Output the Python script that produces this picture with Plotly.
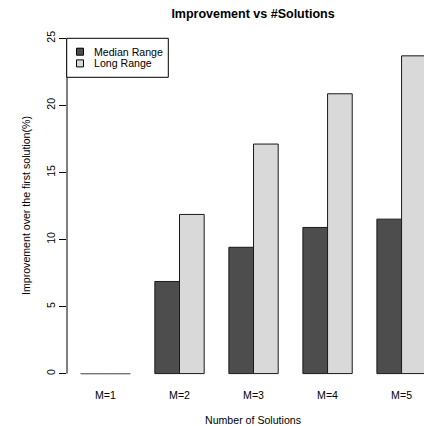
import plotly.graph_objects as go

categories = ["M=1", "M=2", "M=3", "M=4", "M=5"]
median_range = [0.0, 6.87, 9.42, 10.9, 11.52]
long_range = [0.0, 11.87, 17.12, 20.87, 23.7]
series_names = ["Median Range", "Long Range"]
series_colors = ["#4d4d4d", "#d9d9d9"]
y_ticks = [0, 5, 10, 15, 20, 25]

W, H = 424, 426
ML, MR, MT, MB = 67, 0, 25, 39
PW, PH = W - ML - MR, H - MT - MB
FONT = "Liberation Sans, Arial, Helvetica, sans-serif"
FS = 10.6

fig = go.Figure()
for name, vals, col in zip(series_names, [median_range, long_range], series_colors):
    fig.add_trace(go.Bar(
        x=categories, y=vals, name=name, showlegend=False,
        marker=dict(color=col, line=dict(color="#1a1a1a", width=1)),
    ))

bargap = 1 / 3
group_w = 1 - bargap
bar_w = group_w / len(series_names)

# zero-height bars are drawn by R as a flat line; reproduce those
for s, vals in enumerate([median_range, long_range]):
    for c, v in enumerate(vals):
        if v == 0:
            x0 = c - group_w / 2 + s * bar_w
            fig.add_shape(type="line", xref="x", yref="y", x0=x0, x1=x0 + bar_w,
                          y0=v, y1=v, line=dict(color="#777777", width=1.2))

# y axis line (spans tick range only, like R)
fig.add_shape(type="line", xref="paper", yref="y", x0=0, x1=0,
              y0=min(y_ticks), y1=max(y_ticks), line=dict(color="black", width=1))

# legend drawn R-style
def px_x(p):
    return (p - ML) / PW

def px_y(p):
    return 1 - (p - MT) / PH

fig.add_shape(type="rect", xref="paper", yref="paper",
              x0=px_x(66.7), x1=px_x(168.3), y0=px_y(77.3), y1=px_y(38.3),
              line=dict(color="black", width=1), fillcolor="white", layer="above")
for i, (name, col) in enumerate(zip(series_names, series_colors)):
    cy = 51.7 + i * 11.7
    fig.add_shape(type="rect", xref="paper", yref="paper",
                  x0=px_x(76.5), x1=px_x(83.5), y0=px_y(cy + 3.5), y1=px_y(cy - 3.5),
                  line=dict(color="black", width=1), fillcolor=col, layer="above")
    fig.add_annotation(xref="paper", yref="paper", x=px_x(91.5), y=px_y(cy),
                       text=name, showarrow=False, xanchor="left", yanchor="middle",
                       font=dict(family=FONT, size=FS, color="black"))

fig.add_annotation(xref="paper", yref="paper", x=px_x(253), y=px_y(420),
                   text="Number of Solutions", showarrow=False,
                   xanchor="center", yanchor="middle",
                   font=dict(family=FONT, size=FS, color="black"))
fig.add_annotation(xref="paper", yref="paper", x=px_x(26), y=px_y(206),
                   text="Improvement over the first solution(%)", showarrow=False,
                   textangle=-90, xanchor="center", yanchor="middle",
                   font=dict(family=FONT, size=FS, color="black"))

fig.update_layout(
    width=W, height=H,
    margin=dict(l=ML, r=MR, t=MT, b=MB, pad=0),
    paper_bgcolor="white", plot_bgcolor="white",
    barmode="group", bargap=bargap, bargroupgap=0,
    showlegend=False,
    title=dict(text="<b>Improvement vs #Solutions</b>", xref="paper", x=px_x(253),
               xanchor="center", yref="container", y=1 - 13.3 / H, yanchor="middle",
               font=dict(family=FONT, size=12.5, color="black")),
    font=dict(family=FONT, size=FS, color="black"),
)
fig.update_xaxes(range=[-0.52, 4.303], showline=False, showgrid=False, zeroline=False,
                 ticks="", tickfont=dict(family=FONT, size=FS, color="black"))
fig.update_yaxes(range=[-1, 26], tickvals=y_ticks, showline=False, showgrid=False,
                 zeroline=False, ticks="outside", ticklen=7, tickcolor="black",
                 tickwidth=1, tickangle=-90,
                 tickfont=dict(family=FONT, size=FS, color="black"))

fig.write_html("out.html", config={"displayModeBar": False},
               post_script="document.body.style.margin='0';document.body.style.overflow='hidden';")
